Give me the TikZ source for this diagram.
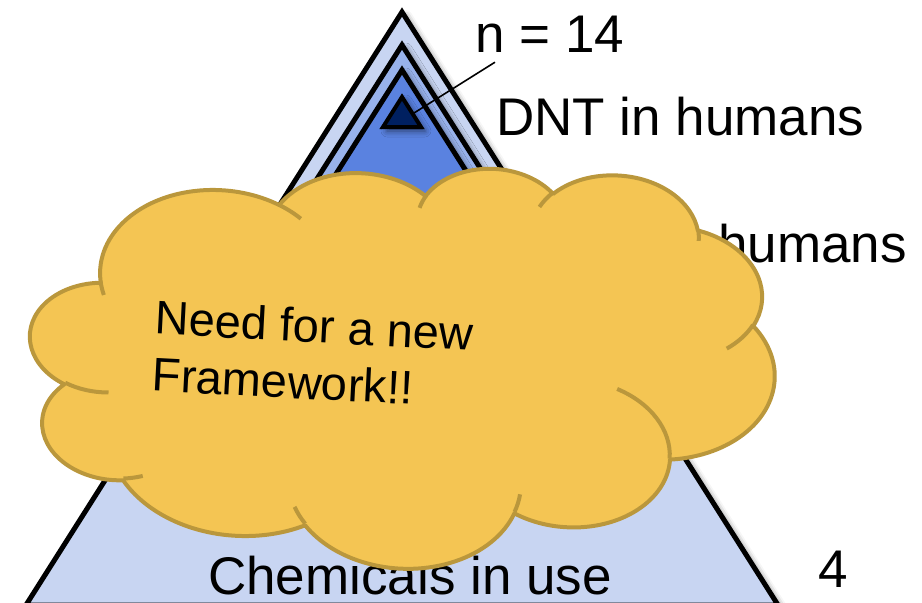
\documentclass[tikz,border=0pt]{standalone}
\usepackage{fontspec}
\setmainfont{Liberation Sans}
\usetikzlibrary{shadows.blur}

\definecolor{tierA}{HTML}{C8D5F2}
\definecolor{tierB}{HTML}{98B2EB}
\definecolor{tierC}{HTML}{5A82E0}
\definecolor{tierD}{HTML}{002060}
\definecolor{cloudfill}{HTML}{F4C553}
\definecolor{cloudline}{HTML}{BA973C}

% one puff of the cloud: x radius, y radius, start angle, sweep (screen angles)
\newcommand\cloudarc[4]{%
  \pgfextra{%
    \pgfmathparse{atan2((#1)*sin(#3),(#2)*cos(#3))}\global\let\arcS\pgfmathresult
    \pgfmathparse{atan2((#1)*sin(#3+#4),(#2)*cos(#3+#4))}\global\let\arcE\pgfmathresult
    \pgfmathparse{\arcE-(\arcS)}\global\let\arcT\pgfmathresult
    \pgfmathparse{ifthenelse(#4>0,ifthenelse(\arcT<0,\arcT+360,\arcT),ifthenelse(\arcT>0,\arcT-360,\arcT))}%
    \global\let\arcD\pgfmathresult}%
  arc[start angle=\arcS, delta angle=\arcD, x radius=#1, y radius=#2]}

\tikzset{
    layer/.style={
           draw=black,
           line width=5pt,
           line join=miter,
           blur shadow={shadow xshift=4pt, shadow yshift=-4pt,
                        shadow blur radius=6pt, shadow opacity=55},
           },
    bigtext/.style={
           font=\fontsize{53}{63}\selectfont,
           inner sep=0pt,
           },
    puff/.style={
           draw=cloudline,
           line width=4pt,
           fill=cloudfill,
           line join=round,
           },
    puffline/.style={
           draw=cloudline,
           line width=4pt,
           },
}

\begin{document}
\begin{tikzpicture}[x=1pt, y=-1pt]
    \useasboundingbox (0,0) rectangle (922,603);

    % pyramid, outermost layer first
    \draw[layer, fill=tierA] (402,12) -- (778,605) -- (26,605) -- cycle;
    \draw[layer, fill=tierB] (402,45) -- (646.5,430) -- (157.5,430) -- cycle;
    \draw[layer, fill=tierC] (402,70) -- (548,300) -- (256,300) -- cycle;
    \draw[layer, fill=tierD, line width=4pt] (402,97) -- (421,127) -- (383,127) -- cycle;
    \coordinate (tip) at (414,113);

    % labels of the layers
    \node[bigtext, anchor=base west] (nlabel) at (475,52) {n = 14};
    \node[bigtext, anchor=base west] (dnt) at (496,135) {DNT in humans};
    \node[bigtext, anchor=base west] (hum) at (718,262) {humans};
    \node[bigtext, anchor=base west] (four) at (818,587) {4};
    \node[bigtext, anchor=base] (chem) at (410,594) {Chemicals in use};

    \draw[line width=1.6pt] ([xshift=20pt, yshift=-10pt]nlabel.south west) -- (tip);

    % the cloud over the middle of the pyramid
    \begin{scope}[shift={(402,365)}, rotate=-3, x=0.1725pt, y=-0.0935pt]
        \draw[puff] (-1770,-723)
            \cloudarc{675.3}{919.0}{-190.4875}{123.7805}
            \cloudarc{533.3}{726.7}{-144.1024}{89.9452}
            \cloudarc{436.5}{594.5}{-145.8079}{99.7230}
            \cloudarc{485.7}{659.5}{-130.9861}{117.2417}
            \cloudarc{533.3}{727.3}{-78.7089}{109.0269}
            \cloudarc{677.5}{922.0}{-46.2673}{130.2690}
            \cloudarc{578.5}{786.7}{0.6250}{114.0333}
            \cloudarc{675.2}{921.5}{22.4516}{115.1726}
            \cloudarc{772.0}{1054.3}{66.2426}{75.7110}
            \cloudarc{436.0}{591.8}{-274.9421}{146.7356}
            \cloudarc{434.5}{594.5}{-246.8285}{152.5189}
            -- cycle;
        % the short inner strokes
        \draw[puffline]
            (-1690.7,457.7) \cloudarc{434.5}{594.5}{86.742}{26.4295}
            (-1467.2,1329.9) \cloudarc{436.0}{591.8}{73.6105}{11.4475}
            (-512.2,1749.0) \cloudarc{675.2}{921.5}{137.6242}{14.0811}
            (722.7,1315.1) \cloudarc{675.2}{921.5}{6.4533}{15.9984}
            (1252.9,135.4) \cloudarc{578.5}{786.7}{-70.2924}{70.9174}
            (2019.8,-624.6) \cloudarc{533.3}{727.3}{30.3180}{27.7515}
            (1672.4,-1617.4) \cloudarc{485.7}{659.5}{-13.7443}{14.8589}
            (747.8,-1764.8) \cloudarc{485.7}{659.5}{-149.1815}{18.1954}
            (54.1,-1688.0) \cloudarc{436.5}{594.5}{-163.4943}{17.6864}
            (-760.0,-1640.8) \cloudarc{675.3}{919.0}{-66.7070}{12.3194}
            (-1747.3,-581.1) \cloudarc{675.3}{919.0}{157.6544}{11.8582};
    \end{scope}

    \node[font=\fontsize{47}{57}\selectfont, inner sep=0pt, align=left, rotate=-3]
        (need) at (313,354) {Need for a new\\Framework!!};
\end{tikzpicture}
\end{document}
